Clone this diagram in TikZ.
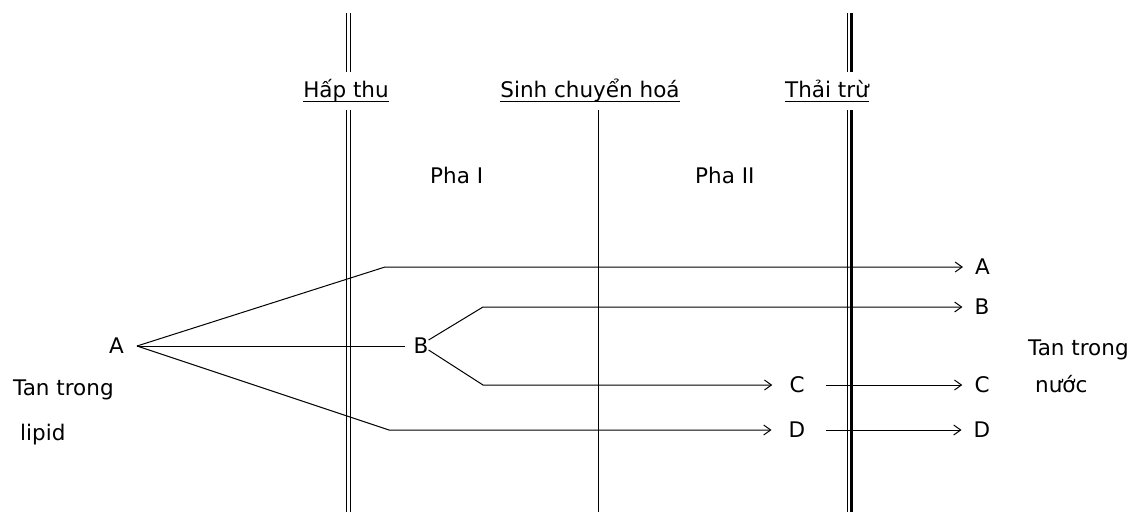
\documentclass[tikz,border=0pt]{standalone}
\usepackage{fontspec}
\setmainfont{DejaVu Sans}
\usetikzlibrary{arrows.meta}

\tikzset{
  lbl/.style={inner sep=0pt, font=\fontsize{21.5}{26}\selectfont},
  hdr/.style={lbl, anchor=base},
  txt/.style={lbl, anchor=base west},
  flow/.style={-{Straight Barb[length=7pt,width=10pt]}, line width=1pt},
  wall/.style={line width=1pt},
}

\begin{document}
\begin{tikzpicture}[x=1pt,y=-1pt]
\useasboundingbox (0,0) rectangle (1139,512);
% stage headings
\node[hdr] (hap) at (346,97) {Hấp thu};
\node[hdr] (sinh) at (590,97) {Sinh chuyển hoá};
\node[hdr] (thai) at (827,97) {Thải trừ};
\draw[line width=1pt] ([yshift=-4pt]hap.base west) -- ([yshift=-4pt]hap.base east);
\draw[line width=1pt] ([yshift=-4pt]sinh.base west) -- ([yshift=-4pt]sinh.base east);
\draw[line width=1pt] ([yshift=-4pt]thai.base west) -- ([yshift=-4pt]thai.base east);
\node[txt] (pha1) at (430,183) {Pha I};
\node[txt] (pha2) at (695,183) {Pha II};
% membranes
\draw[wall] (346.5,13) -- (346.5,72) (350.5,13) -- (350.5,72);
\draw[wall] (346.5,110) -- (346.5,512) (350.5,110) -- (350.5,512);
\draw[wall] (598,110) -- (598,512);
\draw[wall] (847.5,13) -- (847.5,72) (847.5,110) -- (847.5,512);
\draw[line width=2.5pt] (851.5,13) -- (851.5,72) (851.5,110) -- (851.5,512);
% substances
\node[lbl] (a0) at (116.5,346) {A};
\coordinate (fork) at (137,346);
\node[txt] (tanL) at (13,395) {Tan trong};
\node[txt] (lipid) at (20,440) {lipid};
\node[lbl] (b1) at (421,346) {B};
\node[lbl] (c1) at (797,385) {C};
\node[lbl] (d1) at (797,430) {D};
\node[lbl] (aOut) at (982.5,267) {A};
\node[lbl] (bOut) at (982,307) {B};
\node[lbl] (cOut) at (982,385) {C};
\node[lbl] (dOut) at (982,430) {D};
\node[txt] (tanR) at (1028,355) {Tan trong};
\node[txt] (nuoc) at (1035,392) {nước};
% pathways
\draw[flow, shorten >=12pt] (fork) -- (385,267) -- (aOut);
\draw[line width=1pt, shorten >=8pt] (fork) -- (b1);
\draw[flow, shorten >=17pt] (fork) -- (389,430) -- (d1);
\draw[flow, shorten >=12pt] ([yshift=6pt]b1.east) -- (483,307) -- (bOut);
\draw[flow, shorten >=17pt] ([yshift=-4pt]b1.east) -- (483,385) -- (c1);
\draw[flow, shorten <=21pt, shorten >=12pt] (c1) -- (cOut);
\draw[flow, shorten <=21pt, shorten >=12pt] (d1) -- (dOut);
\end{tikzpicture}
\end{document}
